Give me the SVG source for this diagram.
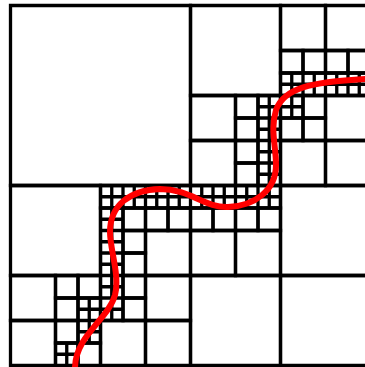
<svg xmlns="http://www.w3.org/2000/svg" width="365" height="367" viewBox="0 0 365 367">
<style>
.c rect{fill:none;stroke:#000;stroke-width:3.3;vector-effect:non-scaling-stroke}
.c path{fill:none;stroke:#000;stroke-width:3.3;stroke-linecap:square;vector-effect:non-scaling-stroke}
.curve{fill:none;stroke:#f00;stroke-width:6;stroke-linecap:butt}
</style>
<rect x="0" y="0" width="365" height="367" fill="#fff"/>
<g id="quadtree" class="c" transform="translate(10.5 5.5) scale(11.25)">
<g id="level1">
<rect x="0" y="0" width="16" height="16"/>
</g>
<g id="level2">
<rect x="16" y="0" width="8" height="8"/>
<rect x="0" y="16" width="8" height="8"/>
<rect x="24" y="16" width="8" height="8"/>
<rect x="16" y="24" width="8" height="8"/>
<rect x="24" y="24" width="8" height="8"/>
</g>
<g id="level3">
<rect x="24" y="0" width="4" height="4"/>
<rect x="28" y="0" width="4" height="4"/>
<rect x="28" y="8" width="4" height="4"/>
<rect x="16" y="8" width="4" height="4"/>
<rect x="16" y="12" width="4" height="4"/>
<rect x="24" y="12" width="4" height="4"/>
<rect x="28" y="12" width="4" height="4"/>
<rect x="16" y="20" width="4" height="4"/>
<rect x="20" y="20" width="4" height="4"/>
<rect x="12" y="20" width="4" height="4"/>
<rect x="0" y="24" width="4" height="4"/>
<rect x="0" y="28" width="4" height="4"/>
<rect x="12" y="24" width="4" height="4"/>
<rect x="12" y="28" width="4" height="4"/>
<rect x="8" y="28" width="4" height="4"/>
</g>
<g id="level4">
<rect x="24" y="4" width="2" height="2"/>
<rect x="26" y="4" width="2" height="2"/>
<rect x="28" y="4" width="2" height="2"/>
<rect x="30" y="4" width="2" height="2"/>
<rect x="26" y="8" width="2" height="2"/>
<rect x="24" y="10" width="2" height="2"/>
<rect x="26" y="10" width="2" height="2"/>
<rect x="20" y="8" width="2" height="2"/>
<rect x="20" y="10" width="2" height="2"/>
<rect x="20" y="12" width="2" height="2"/>
<rect x="20" y="14" width="2" height="2"/>
<rect x="10" y="18" width="2" height="2"/>
<rect x="12" y="18" width="2" height="2"/>
<rect x="14" y="18" width="2" height="2"/>
<rect x="16" y="18" width="2" height="2"/>
<rect x="18" y="18" width="2" height="2"/>
<rect x="20" y="18" width="2" height="2"/>
<rect x="22" y="18" width="2" height="2"/>
<rect x="10" y="20" width="2" height="2"/>
<rect x="10" y="22" width="2" height="2"/>
<rect x="10" y="24" width="2" height="2"/>
<rect x="10" y="26" width="2" height="2"/>
<rect x="4" y="24" width="2" height="2"/>
<rect x="6" y="24" width="2" height="2"/>
<rect x="4" y="26" width="2" height="2"/>
<rect x="4" y="28" width="2" height="2"/>
<rect x="6" y="30" width="2" height="2"/>
</g>
<g id="level5">
<path d="M24 6H32M24 7H32M24 8H32M24 6v2m1 -2v2m1 -2v2m1 -2v2m1 -2v2m1 -2v2m1 -2v2m1 -2v2m1 -2v2"/>
<path d="M24 8H26M24 9H26M24 10H26M24 8v2m1 -2v2m1 -2v2"/>
<path d="M22 8H24M22 9H24M22 10H24M22 11H24M22 12H24M22 13H24M22 14H24M22 15H24M22 16H24M22 8v8m1 -8v8m1 -8v8"/>
<path d="M8 16H24M8 17H24M8 18H24M8 16v2m1 -2v2m1 -2v2m1 -2v2m1 -2v2m1 -2v2m1 -2v2m1 -2v2m1 -2v2m1 -2v2m1 -2v2m1 -2v2m1 -2v2m1 -2v2m1 -2v2m1 -2v2m1 -2v2"/>
<path d="M8 18H10M8 19H10M8 20H10M8 21H10M8 22H10M8 23H10M8 24H10M8 25H10M8 26H10M8 27H10M8 28H10M8 18v10m1 -10v10m1 -10v10"/>
<path d="M6 26H8M6 27H8M6 28H8M6 29H8M6 30H8M6 26v4m1 -4v4m1 -4v4"/>
<path d="M4 30H6M4 31H6M4 32H6M4 30v2m1 -2v2m1 -2v2"/>
</g>
</g>
<g id="connectors">
<path class="curve" d="M75 367C76 335 108 320 115 295C120 275 110 250 110 232C110 205 130 190 160 189C190 189 205 208 228 207C255 206 276 190 276 165C276 145 270 130 276 110C284 88 310 82 367 79"/>
</g>
</svg>
